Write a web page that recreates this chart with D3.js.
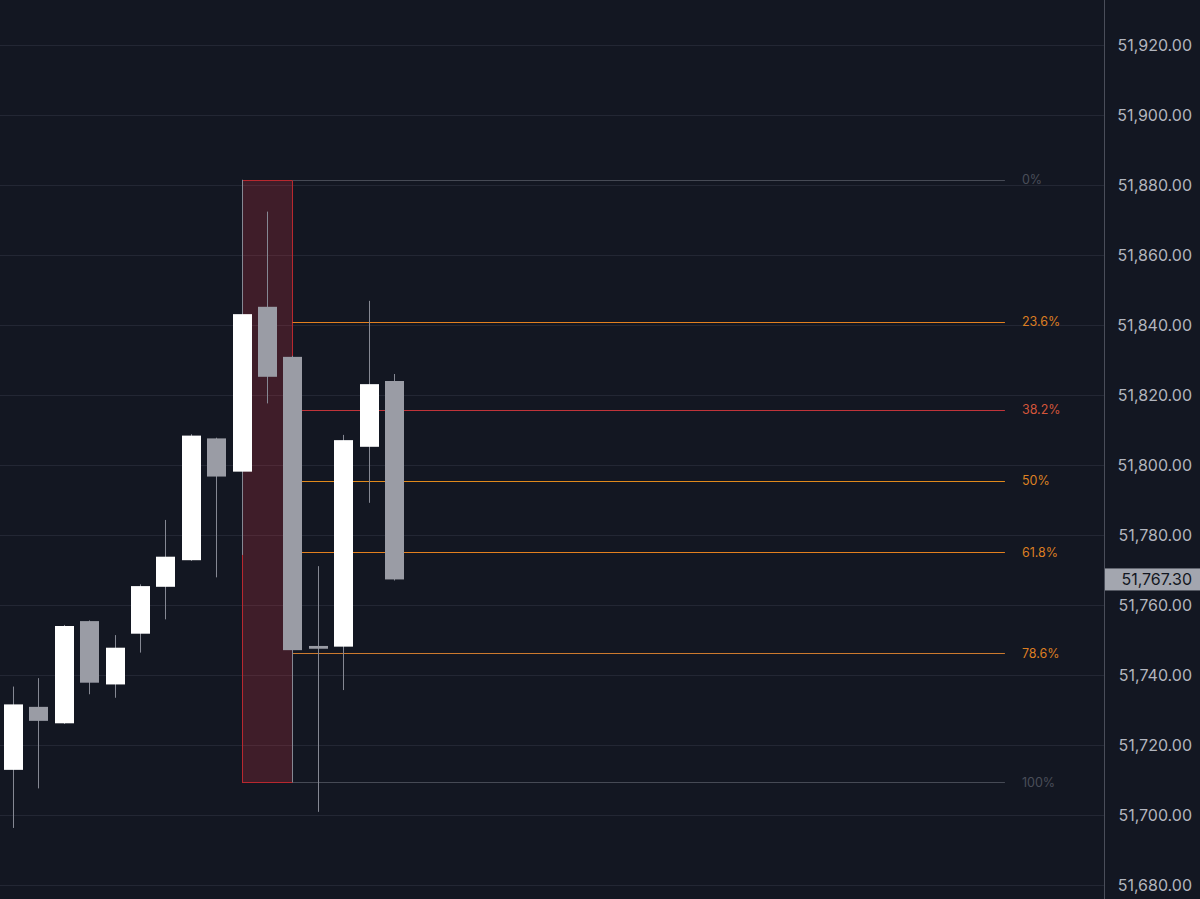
<!DOCTYPE html>
<html>
<head>
<meta charset="utf-8">
<script src="https://cdn.jsdelivr.net/npm/d3@7"></script>
<style>
  html, body { margin: 0; padding: 0; background: #131722; }
  svg { display: block; }
  text { font-family: Inter, "Noto Sans", sans-serif; }
</style>
</head>
<body>
<div id="chart"></div>
<script>
var svgWidth = 1200;
var svgHeight = 899;
var axisX = 1104;

// candles, oldest first
var opens  = [51712.9, 51730.9, 51726.2, 51755.4, 51737.3, 51751.8, 51765.2, 51772.8, 51807.6, 51798.1, 51845.2, 51830.9, 51748.3, 51748.1, 51805.2, 51824.0];
var highs  = [51736.7, 51739.1, 51754.3, 51755.6, 51751.4, 51765.9, 51784.3, 51808.8, 51807.8, 51881.5, 51872.4, 51831.2, 51771.1, 51808.6, 51846.9, 51826.0];
var lows   = [51696.3, 51707.6, 51726.0, 51734.5, 51733.5, 51746.4, 51755.9, 51772.6, 51767.9, 51774.3, 51817.6, 51709.3, 51700.9, 51735.7, 51789.2, 51767.0];
var closes = [51731.6, 51726.9, 51754.0, 51737.8, 51747.8, 51765.4, 51773.8, 51808.4, 51796.7, 51843.1, 51825.2, 51747.1, 51747.5, 51807.1, 51823.1, 51767.3];

var priceTicks = [51680, 51700, 51720, 51740, 51760, 51780, 51800, 51820, 51840, 51860, 51880, 51900, 51920];
var lastPrice = 51767.3;

// fibonacci retracement
var fibHigh = 51881.5;
var fibLow = 51709.3;
var fibLevels = [0, 0.236, 0.382, 0.5, 0.618, 0.786, 1];
var fibLabels = ['0%', '23.6%', '38.2%', '50%', '61.8%', '78.6%', '100%'];
var fibLineColors = ['#464a55', '#e2801f', '#c0343a', '#e08a1c', '#e2801f', '#cc7a2e', '#464a55'];
var fibTextColors = ['#4a4e59', '#dc7e22', '#d2553a', '#dc8124', '#dc7e22', '#dc7e22', '#4a4e59'];
var fibStart = 9, fibEnd = 11, fibLineEnd = 39.05;

var candles = opens.map(function(o, i) {
    return { i: i, open: o, high: highs[i], low: lows[i], close: closes[i] };
});

var svg = d3.select('#chart')
    .append('svg')
    .attr('width', svgWidth)
    .attr('height', svgHeight);

var x = d3.scaleLinear()
    .domain([-0.512, 42.95])
    .range([0, axisX]);

var y = d3.scaleLinear()
    .domain([51680, 51920])
    .range([885, 45]);

var bodyW = 19;

// grid
svg.append('g')
    .selectAll('line')
    .data(priceTicks)
    .enter()
    .append('line')
    .attr('x1', 0)
    .attr('x2', axisX)
    .attr('y1', d => Math.round(y(d)) + 0.5)
    .attr('y2', d => Math.round(y(d)) + 0.5)
    .attr('stroke', '#232734')
    .attr('stroke-width', 1);

// retracement box
svg.append('rect')
    .attr('x', Math.round(x(fibStart)) + 0.5)
    .attr('y', Math.round(y(fibHigh)) + 0.5)
    .attr('width', Math.round(x(fibEnd)) - Math.round(x(fibStart)))
    .attr('height', Math.round(y(fibLow)) - Math.round(y(fibHigh)))
    .attr('fill', 'rgba(242,54,69,0.2)')
    .attr('stroke', '#b8282f')
    .attr('stroke-width', 1);

// fib levels
var fibs = fibLevels.map(function(l, k) {
    return { price: fibHigh - l * (fibHigh - fibLow), label: fibLabels[k], line: fibLineColors[k], text: fibTextColors[k] };
});

var fibG = svg.append('g');
fibG.selectAll('line')
    .data(fibs)
    .enter()
    .append('line')
    .attr('x1', Math.round(x(fibEnd)) + 0.5)
    .attr('x2', x(fibLineEnd))
    .attr('y1', d => Math.round(y(d.price)) + 0.5)
    .attr('y2', d => Math.round(y(d.price)) + 0.5)
    .attr('stroke', d => d.line)
    .attr('stroke-width', 1);

fibG.selectAll('text')
    .data(fibs)
    .enter()
    .append('text')
    .attr('x', x(fibLineEnd) + 17)
    .attr('y', d => y(d.price))
    .attr('dy', '0.35em')
    .attr('fill', d => d.text)
    .style('font-size', '12.5px')
    .text(d => d.label);

// candles
var cg = svg.append('g')
    .selectAll('g')
    .data(candles)
    .enter()
    .append('g');

cg.append('line')
    .attr('x1', d => Math.round(x(d.i)) + 0.5)
    .attr('x2', d => Math.round(x(d.i)) + 0.5)
    .attr('y1', d => y(d.high))
    .attr('y2', d => y(d.low))
    .attr('stroke', '#858893')
    .attr('stroke-width', 1);

cg.append('rect')
    .attr('x', d => Math.round(x(d.i)) - 9)
    .attr('y', d => y(Math.max(d.open, d.close)))
    .attr('width', bodyW)
    .attr('height', d => Math.max(2, y(Math.min(d.open, d.close)) - y(Math.max(d.open, d.close))))
    .attr('fill', d => d.close >= d.open ? '#ffffff' : '#9a9ca5');

// price axis
svg.append('line')
    .attr('x1', axisX + 0.5)
    .attr('x2', axisX + 0.5)
    .attr('y1', 0)
    .attr('y2', svgHeight)
    .attr('stroke', '#4a4e5a')
    .attr('stroke-width', 1);

var fmt = d3.format(',.2f');

svg.append('g')
    .selectAll('text')
    .data(priceTicks)
    .enter()
    .append('text')
    .attr('x', 1192)
    .attr('y', d => y(d))
    .attr('dy', '0.35em')
    .attr('text-anchor', 'end')
    .attr('fill', '#b2b5be')
    .style('font-size', '16px')
    .text(d => fmt(d));

// last price tag
svg.append('rect')
    .attr('x', axisX + 1)
    .attr('y', y(lastPrice) - 11)
    .attr('width', svgWidth - axisX - 1)
    .attr('height', 22)
    .attr('fill', '#a3a6af');

svg.append('text')
    .attr('x', 1192)
    .attr('y', y(lastPrice))
    .attr('dy', '0.35em')
    .attr('text-anchor', 'end')
    .attr('fill', '#131722')
    .style('font-size', '16px')
    .text(fmt(lastPrice));
</script>
</body>
</html>
